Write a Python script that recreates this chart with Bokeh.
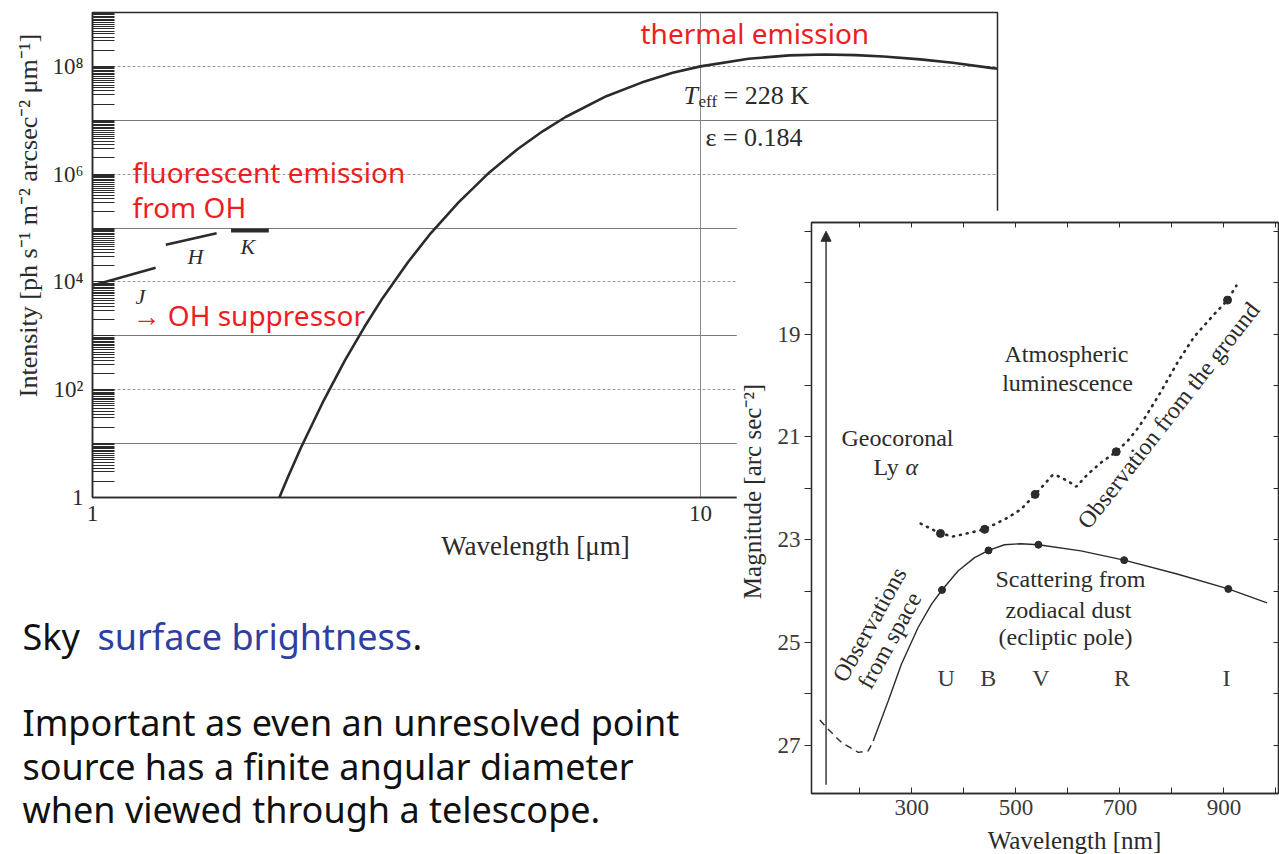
from bokeh.plotting import figure
from bokeh.layouts import column
from bokeh.models import (Range1d, FixedTicker, LinearAxis, Grid, Label, Arrow, NormalHead,
                          CustomJSTickFormatter, GridBox)
from bokeh.embed import file_html
from bokeh.resources import INLINE

# ---------------- near-infrared sky background (left panel) ----------------
# wavelength [um] and intensity [ph s^-1 m^-2 arcsec^-2 um^-1] of the thermal sky
thermal_um = [1.95, 2.0, 2.1, 2.2, 2.4, 2.6, 2.8, 3.0, 3.3, 3.6, 4.0, 4.5, 5.0, 5.5,
              6.0, 7.0, 8.0, 9.0, 10.0, 12.0, 14.0, 16.0, 18.0, 20.0, 23.0, 26.0, 30.0, 31.0]
thermal_flux = [0.34, 0.68, 2.5, 8.2, 63, 347, 1455, 5.0e3, 2.3e4, 8.0e4, 3.0e5, 1.09e6,
                2.9e6, 6.25e6, 1.15e7, 2.8e7, 5.0e7, 7.6e7, 1.0e8, 1.39e8, 1.6e8, 1.66e8,
                1.62e8, 1.53e8, 1.35e8, 1.17e8, 9.4e7, 9.0e7]

# OH airglow level in the J, H and K windows
oh_j_um, oh_j_flux = [1.0, 1.27], [8.6e3, 1.83e4]
oh_h_um, oh_h_flux = [1.32, 1.60], [4.9e4, 8.0e4]
oh_k_um, oh_k_flux = [1.69, 1.95], [9.0e4, 9.0e4]

ir_decades = [1, 1e1, 1e2, 1e3, 1e4, 1e5, 1e6, 1e7, 1e8, 1e9]
ir_minor_steps = [2, 3, 3.5, 4, 4.5, 5, 5.5, 6, 6.5, 7, 7.5, 8, 8.5, 9, 9.5]
ir_y_label_ticks = [1, 1e2, 1e4, 1e6, 1e8]
ir_y_tick_labels = ["1", "10²", "10⁴", "10⁶", "10⁸"]
ir_x_label_ticks = [1, 10]
ir_x_tick_labels = ["1", "10"]

# ---------------- optical night-sky brightness (right panel) ----------------
# zodiacal light seen from space, magnitude per arcsec^2
zodi_nm = [225.7, 254.5, 280, 312, 337.5, 358, 388.7, 420.6, 447.4, 478, 510, 543.3,
           625, 708.2, 810, 908.5, 983]
zodi_mag = [26.92, 26.14, 25.42, 24.71, 24.26, 23.98, 23.61, 23.35, 23.21, 23.10, 23.08,
            23.10, 23.22, 23.40, 23.67, 23.96, 24.23]
zodi_pts_nm = [358, 447.4, 543.3, 708.2, 908.5]
zodi_pts_mag = [23.98, 23.21, 23.10, 23.40, 23.96]
# far-UV part (uncertain)
uv_nm = [123, 139, 165, 197, 216, 226]
uv_mag = [26.51, 26.69, 26.95, 27.14, 27.11, 26.92]
# sky seen from the ground
ground_nm = [317, 355, 379, 401, 440, 485, 510, 537, 555, 571, 580, 600, 616, 638, 664,
             693, 715, 737, 753, 779, 811, 843, 881, 907, 924]
ground_mag = [22.69, 22.88, 22.94, 22.89, 22.80, 22.57, 22.41, 22.12, 21.92, 21.74, 21.76,
              21.86, 21.97, 21.73, 21.50, 21.29, 21.08, 20.80, 20.55, 20.12, 19.55, 19.05,
              18.62, 18.34, 18.06]
ground_pts_nm = [355, 440, 537, 693, 907]
ground_pts_mag = [22.88, 22.80, 22.12, 21.29, 18.34]
bands = ["U", "B", "V", "R", "I"]
band_nm = [366, 447, 548, 704, 905]
lya_nm = 135
lya_mag_low, lya_mag_high = 27.77, 17.0

mag_major = [19, 21, 23, 25, 27]
mag_minor = [17, 18, 20, 22, 24, 26]
mag_all = [17, 18, 19, 20, 21, 22, 23, 24, 25, 26, 27]
nm_major = [300, 500, 700, 900]
nm_minor = [200, 400, 600, 800, 1000]
nm_all = [200, 300, 400, 500, 600, 700, 800, 900, 1000]

INK = "#2b2b2b"
SERIF = "Liberation Serif"
HAND = "Noto Sans"
RED = "#ee1d23"
BLUE = "#2f3f9f"


def canvas_text(fig, origin, x, y, text, size=24, color=INK, font=SERIF, style="normal",
                align="left", baseline="middle", angle=0):
    """Place text at page pixel (x, y); origin = (frame left, frame bottom) in page pixels."""
    fx, fy = origin
    fig.add_layout(Label(x=x - fx, y=fy - y, x_units="screen", y_units="screen", text=text,
                         text_font=font, text_font_size=f"{size}px", text_font_style=style,
                         text_color=color, text_align=align, text_baseline=baseline,
                         angle=angle, angle_units="deg"))


def tick_text_formatter(vals, labs):
    return CustomJSTickFormatter(args=dict(vals=vals, labs=labs), code="""
        for (let i = 0; i < vals.length; i++) {
            if (Math.abs(Math.log10(tick) - Math.log10(vals[i])) < 1e-6) return labs[i];
        }
        return "";
    """)


# ============================ left panel ============================
p1 = figure(width=1279, height=854, x_axis_type="log", y_axis_type="log",
            x_range=Range1d(1, 30.8), y_range=Range1d(1, 1e9),
            output_backend="svg", toolbar_location=None,
            min_border_left=92, min_border_right=282, min_border_top=12, min_border_bottom=357)
p1.background_fill_color = "white"
p1.border_fill_color = "white"
p1.outline_line_color = INK
p1.outline_line_width = 1.5

odd_decades = [d for d in ir_decades if d not in ir_y_label_ticks]
ya = p1.yaxis[0]
ya.ticker = FixedTicker(ticks=ir_y_label_ticks,
                        minor_ticks=odd_decades + [m * d for d in ir_decades[:-1]
                                                   for m in ir_minor_steps])
ya.formatter = tick_text_formatter(ir_y_label_ticks, ir_y_tick_labels)
ya.major_tick_in, ya.major_tick_out = 22, 0
ya.minor_tick_in, ya.minor_tick_out = 22, 0
ya.major_tick_line_color = INK
ya.minor_tick_line_color = INK
ya.axis_line_color = INK
ya.axis_line_width = 1.5
ya.major_label_standoff = 9
ya.major_label_text_font = SERIF
ya.major_label_text_font_size = "23px"
ya.major_label_text_color = INK

xa = p1.xaxis[0]
xa.ticker = FixedTicker(ticks=ir_x_label_ticks)
xa.formatter = tick_text_formatter(ir_x_label_ticks, ir_x_tick_labels)
xa.major_tick_in, xa.major_tick_out = 0, 0
xa.axis_line_color = INK
xa.axis_line_width = 1.5
xa.major_label_standoff = 8
xa.major_label_text_font = SERIF
xa.major_label_text_font_size = "23px"
xa.major_label_text_color = INK

p1.xgrid.ticker = FixedTicker(ticks=[10])
p1.xgrid.grid_line_color = "#8a8a8a"
p1.ygrid.visible = False
p1.add_layout(Grid(dimension=1, ticker=FixedTicker(ticks=[1e1, 1e3, 1e5, 1e7]),
                   grid_line_color="#7a7a7a", grid_line_width=1))
p1.add_layout(Grid(dimension=1, ticker=FixedTicker(ticks=[1e2, 1e4, 1e6, 1e8]),
                   grid_line_color="#9a9a9a", grid_line_width=1, grid_line_dash="3 2"))

p1.line(thermal_um, thermal_flux, line_color=INK, line_width=2.6)
p1.line(oh_j_um, oh_j_flux, line_color=INK, line_width=2.6)
p1.line(oh_h_um, oh_h_flux, line_color=INK, line_width=2.6)
p1.line(oh_k_um, oh_k_flux, line_color=INK, line_width=4)

o1 = (92, 497)
canvas_text(p1, o1, 135, 296, "J", size=22, style="italic")
canvas_text(p1, o1, 187, 256, "H", size=22, style="italic")
canvas_text(p1, o1, 240, 246, "K", size=22, style="italic")
canvas_text(p1, o1, 683, 95, "T", size=26, style="italic")
canvas_text(p1, o1, 698, 101, "eff", size=17)
canvas_text(p1, o1, 723, 95, "= 228 K", size=26)
canvas_text(p1, o1, 705, 137, "ε = 0.184", size=26)

canvas_text(p1, o1, 640, 32, "thermal emission", size=28, color=RED, font=HAND)
canvas_text(p1, o1, 132, 171, "fluorescent emission", size=28, color=RED, font=HAND)
canvas_text(p1, o1, 132, 206, "from OH", size=28, color=RED, font=HAND)
canvas_text(p1, o1, 132, 314, "→ OH suppressor", size=28, color=RED, font=HAND)

# ============================ right panel ============================
p2 = figure(width=543, height=644, x_range=Range1d(107, 1005), y_range=Range1d(27.94, 16.83),
            output_backend="svg", toolbar_location=None,
            min_border_left=75, min_border_right=1, min_border_top=12, min_border_bottom=61)
p2.background_fill_color = "white"
p2.border_fill_color = "white"
p2.outline_line_color = INK
p2.outline_line_width = 1.3
p2.grid.visible = False

bx = p2.xaxis[0]
bx.ticker = FixedTicker(ticks=nm_major, minor_ticks=nm_minor)
by = p2.yaxis[0]
by.ticker = FixedTicker(ticks=mag_major, minor_ticks=mag_minor)
tx = LinearAxis(ticker=FixedTicker(ticks=[], minor_ticks=nm_all))
ry = LinearAxis(ticker=FixedTicker(ticks=[], minor_ticks=mag_all))
p2.add_layout(tx, "above")
p2.add_layout(ry, "right")

for ax in (bx, by, tx, ry):
    ax.axis_line_color = INK
    ax.axis_line_width = 1.3
    ax.major_tick_line_color = INK
    ax.minor_tick_line_color = INK
    ax.major_label_text_font = SERIF
    ax.major_label_text_font_size = "23px"
    ax.major_label_text_color = "#3a3a3a"
bx.major_tick_in, bx.major_tick_out = 6, 0
bx.minor_tick_in, bx.minor_tick_out = 6, 0
bx.major_label_standoff = 6
by.major_tick_in, by.major_tick_out = 0, 7
by.minor_tick_in, by.minor_tick_out = 0, 7
by.major_label_standoff = 4
for ax in (tx, ry):
    ax.major_tick_in, ax.major_tick_out = 5, 0
    ax.minor_tick_in, ax.minor_tick_out = 5, 0
    ax.major_label_standoff = 0

p2.line(uv_nm, uv_mag, line_color=INK, line_width=1.4, line_dash="7 5")
p2.line(zodi_nm, zodi_mag, line_color=INK, line_width=1.4)
p2.scatter(zodi_pts_nm, zodi_pts_mag, size=7, color=INK)
p2.line(ground_nm, ground_mag, line_color=INK, line_width=2.6, line_dash="1 6",
        line_cap="round")
p2.scatter(ground_pts_nm, ground_pts_mag, size=8, color=INK)
p2.add_layout(Arrow(end=NormalHead(size=10, fill_color=INK, line_color=INK),
                    x_start=lya_nm, y_start=lya_mag_low, x_end=lya_nm, y_end=lya_mag_high,
                    line_color=INK, line_width=1.4))

o2 = (811, 793)  # right-panel frame corner in page pixels (canvas starts at 736, 210)
for name, nm in zip(bands, band_nm):
    p2.add_layout(Label(x=nm, y=793 - 677, x_units="data", y_units="screen", text=name,
                        text_font=SERIF, text_font_size="24px", text_color="#3a3a3a",
                        text_align="center", text_baseline="middle"))

canvas_text(p2, o2, 1066, 353, "Atmospheric", size=24, align="center")
canvas_text(p2, o2, 1067, 382, "luminescence", size=24, align="center")
canvas_text(p2, o2, 897, 437, "Geocoronal", size=24, align="center")
canvas_text(p2, o2, 873, 466, "Ly", size=24)
canvas_text(p2, o2, 905, 466, "α", size=24, style="italic")
canvas_text(p2, o2, 1070, 578, "Scattering from", size=24, align="center")
canvas_text(p2, o2, 1068, 609, "zodiacal dust", size=24, align="center")
canvas_text(p2, o2, 1065, 636, "(ecliptic pole)", size=24, align="center")
canvas_text(p2, o2, 869, 624, "Observations", size=24, align="center", angle=61)
canvas_text(p2, o2, 889, 640, "from space", size=24, align="center", angle=61)
canvas_text(p2, o2, 1168, 415, "Observation from the ground", size=24, align="center",
            angle=52)

# ============================ page-level text layer ============================
p0 = figure(width=1279, height=854, x_range=Range1d(0, 1), y_range=Range1d(0, 1),
            x_axis_location=None, y_axis_location=None, min_border=0,
            output_backend="svg", toolbar_location=None)
p0.grid.visible = False
p0.outline_line_color = None
p0.background_fill_alpha = 0
p0.border_fill_alpha = 0
o0 = (0, 854)
canvas_text(p0, o0, 28, 215, "Intensity [ph s⁻¹ m⁻² arcsec⁻² μm⁻¹]", size=26,
            align="center", angle=90)
canvas_text(p0, o0, 535, 545, "Wavelength [μm]", size=27, align="center")
canvas_text(p0, o0, 752, 491, "Magnitude [arc sec⁻²]", size=25, align="center", angle=90)
canvas_text(p0, o0, 1074, 840, "Wavelength [nm]", size=25, align="center")
canvas_text(p0, o0, 22, 636, "Sky", size=36, color="#111111", font=HAND)
canvas_text(p0, o0, 97, 636, "surface brightness", size=36, color=BLUE, font=HAND)
canvas_text(p0, o0, 412, 636, ".", size=36, color="#111111", font=HAND)
canvas_text(p0, o0, 22, 722, "Important as even an unresolved point", size=36,
            color="#111111", font=HAND)
canvas_text(p0, o0, 22, 766, "source has a finite angular diameter", size=36,
            color="#111111", font=HAND)
canvas_text(p0, o0, 22, 809, "when viewed through a telescope.", size=36,
            color="#111111", font=HAND)

page = GridBox(children=[(column(p1), 0, 0, 2, 2), (column(p2), 1, 1, 1, 1),
                         (column(p0), 0, 0, 2, 2)],
               rows=["210px", "644px"], cols=["736px", "543px"], spacing=0)

open("out.html", "w").write(file_html(page, INLINE))
